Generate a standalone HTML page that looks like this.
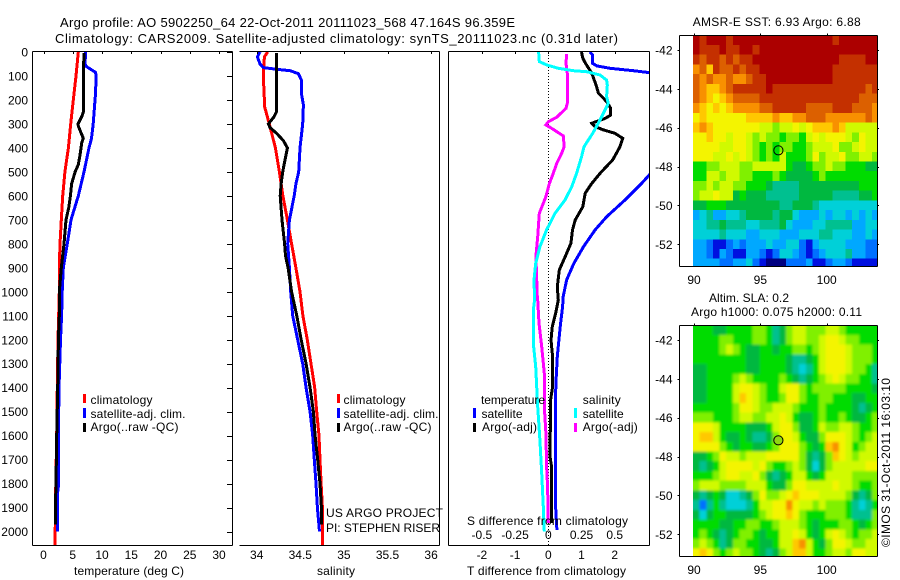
<!DOCTYPE html>
<html>
<head>
<meta charset="utf-8">
<title>Argo profile chart</title>
<style>
html,body{margin:0;padding:0;background:#fff;}
svg{display:block;}
text{font-family:"Liberation Sans",sans-serif;font-size:12px;fill:#000;}
</style>
</head>
<body>
<svg id="chart" xmlns="http://www.w3.org/2000/svg" width="900" height="580" viewBox="0 0 900 580">
<rect x="0" y="0" width="900" height="580" fill="#fff"/>
<defs>
<clipPath id="clip-t"><rect x="32" y="52" width="200" height="493"/></clipPath>
<clipPath id="clip-s"><rect x="239" y="52" width="200" height="493"/></clipPath>
<clipPath id="clip-d"><rect x="449" y="52" width="200" height="493"/></clipPath>
<clipPath id="clip-m1"><rect x="693" y="36" width="184" height="230"/></clipPath>
<clipPath id="clip-m2"><rect x="693" y="326" width="184" height="230"/></clipPath>
<filter id="soften" filterUnits="userSpaceOnUse" x="660" y="300" width="240" height="280"><feGaussianBlur stdDeviation="1.4"/></filter>
</defs>
<g id="layer-marks"></g>
<g id="layer-axes"></g>
<text x="60" y="27" textLength="455" lengthAdjust="spacing" style="font-size:13px">Argo profile: AO 5902250_64 22-Oct-2011 20111023_568 47.164S 96.359E</text>
<text x="55" y="43" textLength="563" lengthAdjust="spacing" style="font-size:13px">Climatology: CARS2009. Satellite-adjusted climatology: synTS_20111023.nc (0.31d later)</text>
<text x="74" y="575" textLength="110" lengthAdjust="spacing">temperature (deg C)</text>
<text x="317" y="575" textLength="38" lengthAdjust="spacing">salinity</text>
<text x="467" y="575" textLength="159" lengthAdjust="spacing">T difference from climatology</text>
<text x="467" y="525" textLength="161" lengthAdjust="spacing">S difference from climatology</text>
<rect x="83" y="394" width="3" height="9" fill="#f00"/>
<rect x="83" y="408" width="3" height="10" fill="#00f"/>
<rect x="83" y="423" width="3" height="9" fill="#000"/>
<text x="90.5" y="404" textLength="62" lengthAdjust="spacing">climatology</text>
<text x="90.5" y="418" textLength="95" lengthAdjust="spacing">satellite-adj. clim.</text>
<text x="90.5" y="431" textLength="88" lengthAdjust="spacing">Argo(..raw -QC)</text>
<rect x="337" y="394" width="3" height="9" fill="#f00"/>
<rect x="337" y="408" width="3" height="10" fill="#00f"/>
<rect x="337" y="423" width="3" height="9" fill="#000"/>
<text x="343.5" y="404" textLength="62" lengthAdjust="spacing">climatology</text>
<text x="343.5" y="418" textLength="95" lengthAdjust="spacing">satellite-adj. clim.</text>
<text x="343.5" y="431" textLength="88" lengthAdjust="spacing">Argo(..raw -QC)</text>
<text x="326" y="517" textLength="117" lengthAdjust="spacing">US ARGO PROJECT</text>
<text x="326" y="532" textLength="114" lengthAdjust="spacing">PI: STEPHEN RISER</text>
<text x="481" y="404" textLength="64" lengthAdjust="spacing">temperature</text>
<rect x="473" y="408" width="3" height="10" fill="#00f"/>
<text x="481.5" y="418" textLength="41" lengthAdjust="spacing">satellite</text>
<rect x="473" y="423" width="3" height="9" fill="#000"/>
<text x="482" y="431" textLength="55" lengthAdjust="spacing">Argo(-adj)</text>
<text x="582.7" y="404" textLength="38" lengthAdjust="spacing">salinity</text>
<rect x="574" y="408" width="3" height="10" fill="#0ff"/>
<text x="582.7" y="418" textLength="41" lengthAdjust="spacing">satellite</text>
<rect x="574" y="423" width="3" height="9" fill="#f0f"/>
<text x="582.7" y="431" textLength="55" lengthAdjust="spacing">Argo(-adj)</text>
<text x="692.7" y="26" textLength="168" lengthAdjust="spacing">AMSR-E SST: 6.93 Argo: 6.88</text>
<text x="709" y="302" textLength="80" lengthAdjust="spacing">Altim. SLA: 0.2</text>
<text x="691" y="316" textLength="171" lengthAdjust="spacing">Argo h1000: 0.075 h2000: 0.11</text>
<text transform="translate(890,547) rotate(-90)" textLength="169" lengthAdjust="spacing">©IMOS 31-Oct-2011 16:03:10</text>
</svg>
<script>
// ---- temperature panel data (depth in dbar, temperature in deg C)
var climTDepth = [0,100,200,300,400,500,600,700,800,900,1000,1200,1400,1600,1800,2000,2055];
var climT = [5.95,5.55,5.1,4.65,4.25,3.65,3.28,3.04,2.82,2.7,2.7,2.48,2.36,2.25,2.1,2.0,2.0];
var satTDepth = [0,50,60,85,100,170,200,300,360,400,500,600,700,800,900,1000,1100,1200,1400,1600,1800,1850,2000];
var satT = [7.2,7.1,7.3,8.9,8.97,8.9,8.8,8.5,8.2,7.78,6.92,5.95,4.7,4.07,3.39,3.2,3.1,2.9,2.65,2.54,2.6,2.36,2.36];
var argoTDepth = [5,100,250,270,300,310,360,380,430,470,500,550,600,650,700,800,900,1000,1100,1200,1400,1600,1800,1850,1970];
var argoT = [6.92,6.8,6.8,6.53,5.9,5.96,6.8,6.53,6.24,5.95,5.4,4.8,4.6,4.3,3.85,3.5,3.05,2.7,2.7,2.54,2.42,2.25,2.14,2.08,2.08];

// ---- salinity panel data
var climSDepth = [0,20,100,200,225,300,400,500,600,700,800,900,1000,1100,1200,1300,1400,1500,1600,1700,1800,1900,2055];
var climS = [34.126,34.088,34.076,34.088,34.088,34.145,34.214,34.26,34.30,34.352,34.40,34.45,34.497,34.53,34.58,34.623,34.665,34.688,34.715,34.726,34.738,34.753,34.757];
var satSDepth = [0,20,50,65,72,78,90,120,180,220,300,400,500,550,600,700,800,900,1000,1100,1200,1300,1400,1500,1600,1700,1800,1900,2000];
var satS = [34.038,34.008,34.038,34.076,34.23,34.382,34.478,34.516,34.516,34.535,34.528,34.497,34.482,34.45,34.43,34.375,34.356,34.375,34.39,34.413,34.47,34.528,34.566,34.612,34.642,34.66,34.68,34.696,34.72];
var argoSDepth = [5,250,270,300,315,340,370,400,450,500,550,600,700,800,850,900,1000,1100,1200,1300,1400,1500,1600,1700,1800,1900,1970];
var argoS = [34.226,34.226,34.2,34.134,34.153,34.23,34.306,34.352,34.325,34.298,34.28,34.27,34.29,34.32,34.33,34.36,34.40,34.46,34.51,34.566,34.612,34.65,34.67,34.70,34.726,34.742,34.742];

// ---- difference panel data
var diffSatTDepth = [0,12,47,58,68,78,86,100,300,450,513,548,617,687,742,812,881,951,1020,1062,1131,1201,1270,1382,1479,1688,1896,1993];
var diffSatT = [1.25,1.33,1.33,1.46,1.86,2.56,3.04,3.4,3.85,3.4,3.04,2.81,2.31,1.76,1.41,1.06,0.77,0.55,0.45,0.43,0.37,0.32,0.27,0.23,0.21,0.21,0.22,0.26];
var diffArgoTDepth = [0,26,47,89,138,172,207,235,263,277,297,311,325,339,360,395,450,506,548,589,645,701,742,798,840,909,979,1034,1090,1145,1201,1270,1396,1451,1688,1729,1965];
var diffArgoT = [1.0,1.04,1.12,1.31,1.44,1.51,1.76,1.88,1.88,1.71,1.31,1.41,1.66,2.01,2.24,2.16,1.94,1.56,1.31,1.11,1.04,0.81,0.73,0.68,0.55,0.33,0.27,0.3,0.22,0.12,0.08,0.13,0.13,0.07,0.05,0.1,0.1];
var diffSatSDepth = [0,40,54,68,78,82,96,117,138,186,214,242,284,339,395,436,506,562,617,673,742,812,881,951,1034,1076,1215,1312,1479,1618,1757,1896,2000];
var diffSatS = [-0.073,-0.068,-0.013,0.075,0.188,0.289,0.389,0.439,0.444,0.439,0.452,0.427,0.389,0.334,0.269,0.251,0.213,0.176,0.126,0.05,-0.013,-0.063,-0.095,-0.108,-0.103,-0.113,-0.113,-0.095,-0.08,-0.063,-0.05,-0.038,-0.03];
var diffArgoSDepth = [8,47,89,214,235,272,291,304,318,350,395,423,464,506,548,603,673,770,853,1020,1034,1131,1229,1340,1479,1590,1729,1813,1965];
var diffArgoS = [0.138,0.133,0.143,0.143,0.133,0.063,0,-0.018,0.025,0.113,0.12,0.1,0.063,0.038,0.008,-0.018,-0.068,-0.08,-0.093,-0.083,-0.08,-0.07,-0.05,-0.03,-0.03,-0.018,-0.013,-0.005,0];

// ---- tick labels
var depthTicks = [0,100,200,300,400,500,600,700,800,900,1000,1100,1200,1300,1400,1500,1600,1700,1800,1900,2000];
var tempTicks = [0,5,10,15,20,25,30];
var salTicks = [34,34.5,35,35.5,36];
var salTickLabels = ['34','34.5','35','35.5','36'];
var diffTTicks = [-2,-1,0,1,2];
var diffSTicks = [-0.5,-0.25,0,0.25,0.5];
var diffSTickLabels = ['-0.5','-0.25','0','0.25','0.5'];
var lonTicks = [90,95,100];
var latTicks = [-42,-44,-46,-48,-50,-52];

// ---- map data: one row per half degree of latitude, one char per half degree of longitude (colour-scale level 0-f)
var sstRows = [
"fefffef"+"fffffff"+"fffffff"+"effffff",
"feeefee"+"ffeffff"+"fffffff"+"fffffff",
"edeeded"+"eefffff"+"fffffff"+"feeeeff",
"cdbedde"+"deeffff"+"fffffff"+"eeeeeee",
"dcdccdc"+"cdeefff"+"fffffff"+"eeeeeee",
"dcbbcde"+"eeeefee"+"eeeeeee"+"eeeeede",
"dcbabcd"+"dddeeee"+"eeeeeee"+"eeeeddd",
"cbababc"+"cccddee"+"eeedddd"+"eeedddc",
"abaaaaa"+"abbbbcb"+"bccdddc"+"cccccdc",
"bcbaaaa"+"aaa9989"+"9a9abbb"+"cb99999",
"aabaa9a"+"a989887"+"8879a9a"+"aa98a99",
"aaaa99a"+"a987878"+"8778999"+"a889a99",
"aaa99a9"+"a987879"+"7778a89"+"9a88998",
"7788999"+"8899999"+"7667889"+"8877766",
"7799899"+"8877787"+"6666787"+"7777777",
"8898998"+"8777655"+"5566666"+"6666777",
"899a996"+"7666555"+"5566666"+"5555667",
"6677766"+"6666665"+"5666544"+"4444444",
"3453344"+"5666656"+"6433343"+"4434343",
"4455655"+"5445556"+"4333445"+"5553344",
"4444544"+"4334443"+"3344455"+"4443343",
"3321123"+"2333433"+"4421344"+"4433322",
"3321321"+"1332124"+"4321234"+"4453322",
"3333223"+"3421000"+"2223112"+"3321111"
];
var slaRows = [
"7776677"+"7788756"+"8998889"+"9877777",
"7777887"+"7788756"+"899889a"+"a988777",
"7777898"+"7667767"+"788789a"+"aa98887",
"7777777"+"7667777"+"655679a"+"aa98887",
"6677777"+"7667777"+"654579a"+"aa98875",
"6677778"+"9877778"+"7656789"+"a988775",
"6677779"+"aa98779"+"aa87888"+"8877776",
"6677779"+"ba98778"+"aa87788"+"7776677",
"7777778"+"aa98899"+"9877787"+"7776567",
"8887778"+"998899a"+"9766787"+"7876678",
"aaa9777"+"766679a"+"a866798"+"8998778",
"abb9766"+"765568a"+"a97668a"+"aa98789",
"aaaa876"+"776678a"+"aa8767b"+"ca97899",
"6678a99"+"8999aaa"+"aa86568"+"ba98999",
"65679aa"+"aa9a877"+"8986468"+"99999aa",
"77789aa"+"99a8656"+"7997679"+"9998888",
"8999888"+"8999766"+"8aa9999"+"a998778",
"6567644"+"568a889"+"abaaa99"+"9986568",
"5257544"+"45799aa"+"ca99898"+"8875457",
"6467766"+"66789aa"+"ba87778"+"8875558",
"7777667"+"7887789"+"9987677"+"7887678",
"7876567"+"8876779"+"9a97679"+"a987889",
"8987568"+"8776679"+"9bc9768"+"aa98899",
"aba8789"+"8876568"+"9bb9778"+"998aa99"
];
var mapLevelColours = ['#000080','#0010e0','#0070ff','#00a8ff','#00d0d8','#00c090','#00b840','#00dc00','#80f000','#d0fa00','#f4f400','#ffc800','#f89000','#dc6000','#c43000','#ac0000'];
var argoLon = 96.359;
var argoLat = -47.164;

// ---- axis functions
var yDepth = function (d) { return 52 + d * 0.2398; };
var xTemp = function (t) { return 43.5 + t * 5.85; };
var xSal = function (s) { return 256.7 + (s - 34) * 87.2; };
var xDiffT = function (t) { return 548.3 + t * 33.2; };
var xDiffS = function (s) { return 548.3 + s * 132.8; };
var xLon = function (lon) { return 694 + (lon - 90) * 13.27; };
var yLat1 = function (lat) { return 50 + (-42 - lat) * 19.43; };
var yLat2 = function (lat) { return 340 + (-42 - lat) * 19.43; };

var NS = 'http://www.w3.org/2000/svg';
var marks = document.getElementById('layer-marks');
var axes = document.getElementById('layer-axes');

function make(parent, tag, props) {
  var el = document.createElementNS(NS, tag);
  for (var k in props) { el.setAttribute(k, props[k]); }
  parent.appendChild(el);
  return el;
}

function drawProfile(name, depths, values, xFn, colour, clip) {
  var pts = [];
  for (var i = 0; i < depths.length; i++) {
    pts.push(xFn(values[i]).toFixed(1) + ',' + yDepth(depths[i]).toFixed(1));
  }
  var el = make(marks, 'polyline', {points: pts.join(' '), fill: 'none', stroke: colour, 'stroke-width': 3, 'shape-rendering': 'crispEdges', 'clip-path': 'url(#' + clip + ')'});
  
  
}

function axisLine(name, x1, y1, x2, y2) {
  var el = make(axes, 'line', {x1: x1, y1: y1, x2: x2, y2: y2, stroke: '#000', 'stroke-width': 1, 'shape-rendering': 'crispEdges'});
  
  
}

function tickLabel(name, x, y, anchor, label) {
  var el = make(axes, 'text', {x: x, y: y, 'text-anchor': anchor});
  el.textContent = label;
  
  
}

function drawMap(name, rows, yLat, clip, soften) {
  var outer = make(marks, 'g', {'clip-path': 'url(#' + clip + ')'});
  
  
  var g = make(outer, 'g', {'shape-rendering': 'crispEdges'});
  if (soften) { g.setAttribute('filter', 'url(#soften)'); }
  
  
  var lonStart = 89.925, latStart = -41.24, step = 0.5;
  for (var r = 0; r < rows.length; r++) {
    var row = rows[r];
    for (var c = 0; c < row.length; c++) {
      var lon = lonStart + c * step;
      var lat = latStart - r * step;
      var x0 = xLon(lon), y0 = yLat(lat);
      var x1 = xLon(lon + step) + 0.5, y1 = yLat(lat - step) + 0.5;
      // edge cells run past the clip so softening does not fade at the border
      if (c === 0) { x0 -= 12; }
      if (c === row.length - 1) { x1 += 12; }
      if (r === 0) { y0 -= 12; }
      if (r === rows.length - 1) { y1 += 12; }
      var cell = make(g, 'rect', {x: x0.toFixed(2), y: y0.toFixed(2), width: (x1 - x0).toFixed(2), height: (y1 - y0).toFixed(2), fill: mapLevelColours[parseInt(row.charAt(c), 16)]});
      
      
    }
  }
}

// ---- maps
drawMap('sst-map', sstRows, yLat1, 'clip-m1', false);
drawMap('sla-map', slaRows, yLat2, 'clip-m2', true);

// ---- profiles
drawProfile('temperature-climatology-line', climTDepth, climT, xTemp, '#f00', 'clip-t');
drawProfile('temperature-satellite-line', satTDepth, satT, xTemp, '#00f', 'clip-t');
drawProfile('temperature-argo-line', argoTDepth, argoT, xTemp, '#000', 'clip-t');
drawProfile('salinity-climatology-line', climSDepth, climS, xSal, '#f00', 'clip-s');
drawProfile('salinity-satellite-line', satSDepth, satS, xSal, '#00f', 'clip-s');
drawProfile('salinity-argo-line', argoSDepth, argoS, xSal, '#000', 'clip-s');

var zeroLine = make(marks, 'line', {x1: xDiffT(0), y1: 52, x2: xDiffT(0), y2: 545, stroke: '#000', 'stroke-width': 1, 'stroke-dasharray': '1 2', 'shape-rendering': 'crispEdges'});



drawProfile('t-difference-satellite-line', diffSatTDepth, diffSatT, xDiffT, '#00f', 'clip-d');
drawProfile('t-difference-argo-line', diffArgoTDepth, diffArgoT, xDiffT, '#000', 'clip-d');
drawProfile('s-difference-argo-line', diffArgoSDepth, diffArgoS, xDiffS, '#f0f', 'clip-d');
drawProfile('s-difference-satellite-line', diffSatSDepth, diffSatS, xDiffS, '#0ff', 'clip-d');

// ---- profile frames
axisLine('temperature-frame-top', 32.5, 51.5, 232.5, 51.5);
axisLine('temperature-frame-bottom', 32.5, 545.5, 232.5, 545.5);
axisLine('temperature-frame-left', 32.5, 51.5, 32.5, 545.5);
axisLine('temperature-frame-right', 232.5, 51.5, 232.5, 545.5);
axisLine('salinity-frame-top', 239.5, 51.5, 439.5, 51.5);
axisLine('salinity-frame-bottom', 239.5, 545.5, 439.5, 545.5);
axisLine('salinity-frame-right', 439.5, 51.5, 439.5, 545.5);
axisLine('difference-frame-top', 448.5, 51.5, 649.5, 51.5);
axisLine('difference-frame-bottom', 448.5, 545.5, 649.5, 545.5);
axisLine('difference-frame-left', 448.5, 51.5, 448.5, 545.5);
axisLine('difference-frame-right', 649.5, 51.5, 649.5, 545.5);

// ---- profile ticks
depthTicks.forEach(function (d) {
  var y = Math.round(yDepth(d)) + 0.5;
  axisLine('depth-tick-right', 227, y, 232, y);
  tickLabel('depth-tick-label', 28, yDepth(d) + 4.5, 'end', String(d));
});
tempTicks.forEach(function (t) {
  var x = Math.round(xTemp(t)) + 0.5;
  axisLine('temperature-tick', x, 52, x, 54);
  tickLabel('temperature-tick-label', xTemp(t), 559, 'middle', String(t));
});
salTicks.forEach(function (s, i) {
  var x = Math.round(xSal(s)) + 0.5;
  axisLine('salinity-tick', x, 52, x, 54);
  tickLabel('salinity-tick-label', xSal(s), 559, 'middle', salTickLabels[i]);
});
diffTTicks.forEach(function (t) {
  var x = Math.round(xDiffT(t)) + 0.5;
  axisLine('t-difference-tick', x, 52, x, 54);
  tickLabel('t-difference-tick-label', xDiffT(t), 559, 'middle', String(t));
});
diffSTicks.forEach(function (s, i) {
  tickLabel('s-difference-tick-label', xDiffS(s), 539, 'middle', diffSTickLabels[i]);
});

// ---- map frames and ticks
function mapFrame(prefix, top, bottom, yLat, labelY) {
  axisLine(prefix + '-frame-top', 679.5, top, 877.5, top);
  axisLine(prefix + '-frame-bottom', 679.5, bottom, 877.5, bottom);
  axisLine(prefix + '-frame-left', 679.5, top, 679.5, bottom);
  axisLine(prefix + '-frame-right', 877.5, top, 877.5, bottom);
  lonTicks.forEach(function (lon) {
    var x = Math.round(xLon(lon)) + 0.5;
    axisLine(prefix + '-lon-tick', x, top - 2, x, top);
    tickLabel(prefix + '-lon-label', xLon(lon), labelY, 'middle', String(lon));
  });
  latTicks.forEach(function (lat) {
    var y = Math.round(yLat(lat)) + 0.5;
    axisLine(prefix + '-lat-tick-left', 677.5, y, 679.5, y);
    axisLine(prefix + '-lat-tick-right', 877.5, y, 879, y);
    tickLabel(prefix + '-lat-label', 672.5, yLat(lat) + 4.5, 'end', String(lat));
  });
}
mapFrame('sst-map', 35.5, 266.5, yLat1, 284);
mapFrame('sla-map', 325.5, 556.5, yLat2, 574);

// ---- float position markers
var sstMarker = make(axes, 'circle', {cx: xLon(argoLon), cy: yLat1(argoLat), r: 4.6, fill: 'none', stroke: '#000', 'stroke-width': 1});


var slaMarker = make(axes, 'circle', {cx: xLon(argoLon), cy: yLat2(argoLat), r: 4.6, fill: '#90d810', stroke: '#000', 'stroke-width': 1});


</script>
</body>
</html>
